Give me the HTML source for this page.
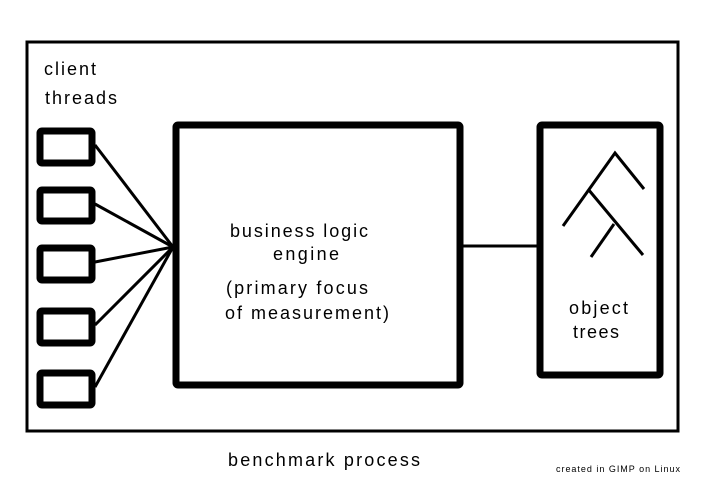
<!DOCTYPE html>
<html><head><style>html,body{margin:0;padding:0;background:#fff}svg{display:block}</style></head>
<body>
<svg width="720" height="500" viewBox="0 0 720 500" xmlns="http://www.w3.org/2000/svg" font-family="Liberation Sans, sans-serif" fill="#000">
<rect x="0" y="0" width="720" height="500" fill="#fff"/>
<rect x="27" y="42" width="651" height="389" fill="none" stroke="#000" stroke-width="3"/>
<g fill="none" stroke="#000" stroke-width="7" stroke-linejoin="round">
<rect x="40" y="131" width="52" height="32" rx="2"/>
<rect x="40" y="190" width="52" height="31" rx="2"/>
<rect x="40" y="248" width="52" height="32" rx="2"/>
<rect x="40" y="311" width="52" height="32" rx="2"/>
<rect x="40" y="373" width="52" height="32" rx="2"/>
<rect x="176" y="125" width="284" height="260" rx="2"/>
<rect x="540" y="125" width="120" height="250" rx="2"/>
</g>
<g stroke="#000" stroke-width="3" fill="none">
<line x1="95" y1="145" x2="173" y2="247"/>
<line x1="95" y1="204" x2="173" y2="247"/>
<line x1="95" y1="262" x2="173" y2="247"/>
<line x1="95" y1="325" x2="173" y2="247"/>
<line x1="95" y1="387" x2="173" y2="247"/>
<line x1="463" y1="246" x2="537" y2="246"/>
<polyline points="563,226 615,153 644,189"/>
<polyline points="588,189 643,255"/>
<line x1="614" y1="224" x2="591" y2="257"/>
</g>
<g font-size="18">
<text x="44" y="75" textLength="52">client</text>
<text x="45" y="104" textLength="72">threads</text>
<text x="230" y="237" textLength="138">business logic</text>
<text x="273" y="260" textLength="66">engine</text>
<text x="226" y="294" textLength="142">(primary focus</text>
<text x="225" y="319" textLength="164">of measurement)</text>
<text x="569" y="314" textLength="59">object</text>
<text x="573" y="338" textLength="46">trees</text>
<text x="228" y="466" textLength="192">benchmark process</text>
</g>
<text x="556" y="472" font-size="9" textLength="124">created in GIMP on Linux</text>
</svg>
</body></html>
